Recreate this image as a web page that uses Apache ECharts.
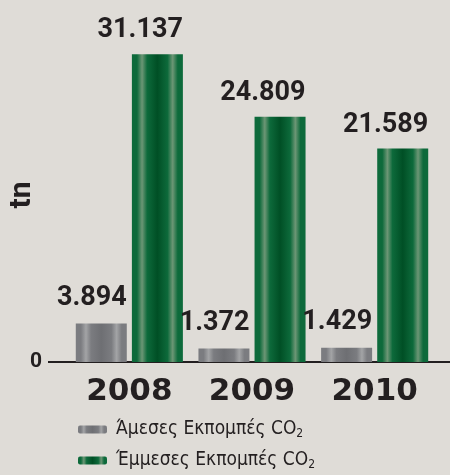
<!DOCTYPE html>
<html style="height: 100%">
<head>
<meta charset="utf-8">
</head>
<body style="height: 100%; margin: 0; background: #dfdcd7">
<div id="container" style="width: 450px; height: 475px"></div>
<script src="https://cdn.jsdelivr.net/npm/echarts@6/dist/echarts.min.js"></script>
<script>
var years = ['2008', '2009', '2010'];
var direct = [3.894, 1.372, 1.429];     // Άμεσες
var indirect = [31.137, 24.809, 21.589]; // Έμμεσες
var seriesNames = ['Άμεσες Εκπομπές CO2', 'Έμμεσες Εκπομπές CO2'];
var unitName = 'tn';

var chart = echarts.init(document.getElementById('container'));

function stripes(edge, light, dark) {
    return new echarts.graphic.LinearGradient(0, 0, 1, 0, [
        {offset: 0, color: edge},
        {offset: 0.1, color: edge},
        {offset: 0.2, color: light},
        {offset: 0.3, color: edge},
        {offset: 0.5, color: dark},
        {offset: 0.7, color: edge},
        {offset: 0.8, color: light},
        {offset: 0.9, color: edge},
        {offset: 1, color: edge}
    ]);
}
var grayFill = stripes('#7b7c80', '#a3a4a6', '#6e6f73');
var greenFill = stripes('#0d6a3b', '#6c9675', '#004f25');

var ink = '#231f20';
var boldFont = 'Roboto, sans-serif';
var thinFont = 'DejaVu Sans Condensed, sans-serif';

function valueLabel(dy) {
    return {
        show: true,
        position: 'top',
        align: 'right',
        offset: [25.5, dy],
        fontFamily: boldFont,
        fontWeight: 'bold',
        fontSize: 27,
        color: ink,
        formatter: function (p) { return p.value.toFixed(3); }
    };
}

function legendFor(name, top) {
    return {
        orient: 'vertical',
        left: 78,
        top: top,
        padding: 0,
        itemWidth: 29,
        itemHeight: 8,
        data: [name],
        textStyle: {
            fontFamily: thinFont,
            fontSize: 19,
            color: ink,
            padding: [0, 0, 0, 4],
            rich: {
                sub: {fontSize: 12, fontFamily: thinFont, color: ink,
                      verticalAlign: 'bottom', padding: [9, 0, 0, 0]}
            }
        },
        formatter: function (n) {
            return n.replace('CO2', 'CO') + '{sub|2}';
        }
    };
}

var option = {
    animation: false,
    backgroundColor: '#dfdcd7',
    grid: {left: 68, right: 14, top: 16, bottom: 113, containLabel: false, outerBoundsMode: 'none'},
    legend: [legendFor(seriesNames[0], 420), legendFor(seriesNames[1], 451)],
    xAxis: {
        type: 'category',
        data: years,
        axisLine: {show: false},
        axisTick: {show: false},
        axisLabel: {
            margin: 14,
            fontFamily: 'DejaVu Sans, sans-serif',
            fontWeight: 'bold',
            fontSize: 31,
            color: ink
        }
    },
    yAxis: {
        type: 'value',
        min: 0,
        max: 35,
        interval: 35,
        name: unitName,
        nameLocation: 'middle',
        nameRotate: 90,
        nameGap: 31,
        nameMoveOverlap: false,
        nameTextStyle: {
            fontFamily: boldFont,
            fontWeight: 'bold',
            fontSize: 30,
            color: ink,
            padding: [0, 12, 0, 0]
        },
        splitLine: {show: false},
        axisLine: {show: false},
        axisTick: {show: false},
        axisLabel: {
            margin: 26,
            verticalAlign: 'middle',
            padding: [0, 0, 14, 0],
            fontFamily: boldFont,
            fontWeight: 'bold',
            fontSize: 21,
            color: ink,
            formatter: function (v) { return v === 0 ? '0' : ''; }
        }
    },
    series: [{
        name: seriesNames[0],
        type: 'bar',
        barWidth: 51,
        barGap: '10%',
        data: direct,
        itemStyle: {color: grayFill},
        label: valueLabel(-7)
    }, {
        name: seriesNames[1],
        type: 'bar',
        barWidth: 51,
        data: indirect,
        itemStyle: {color: greenFill},
        label: valueLabel(-5)
    }]
};

chart.setOption(option);

// baseline runs wider than the plot area
var y0 = chart.convertToPixel({yAxisIndex: 0}, 0);
chart.setOption({
    graphic: [{
        type: 'line',
        shape: {x1: 48, y1: y0, x2: 450, y2: y0},
        style: {stroke: ink, lineWidth: 2}
    }]
});
</script>
</body>
</html>
